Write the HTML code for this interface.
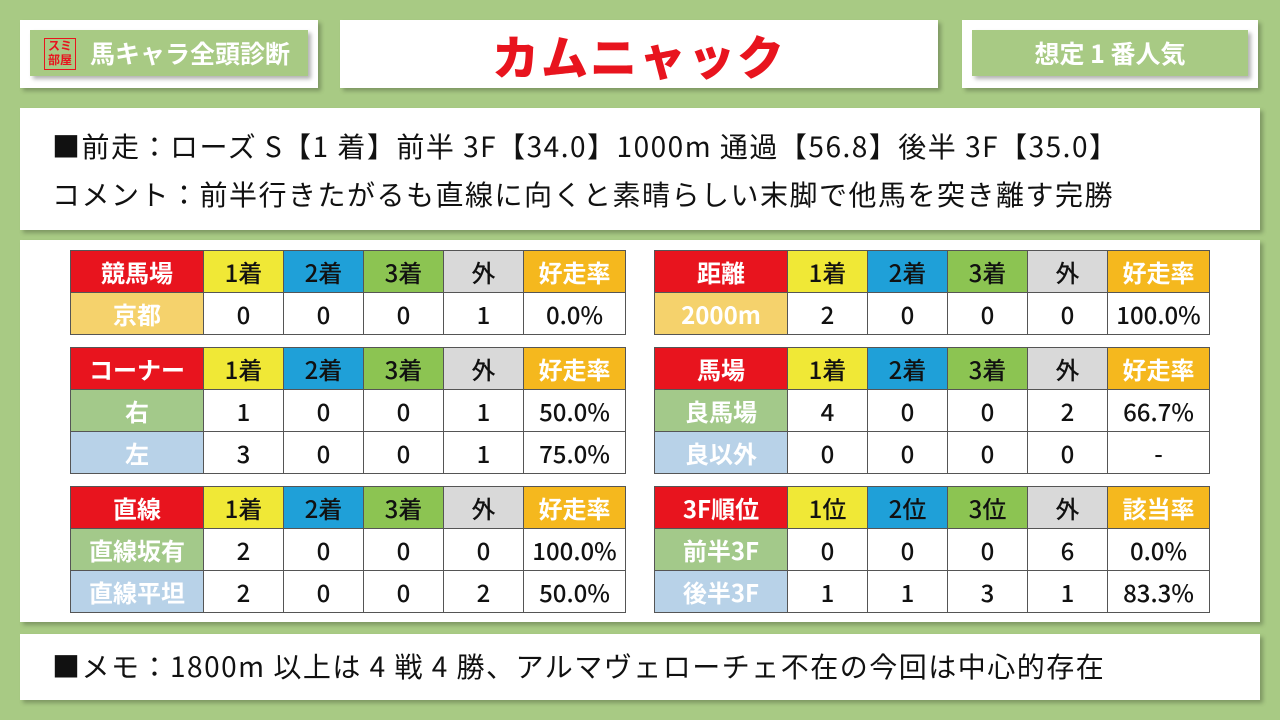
<!DOCTYPE html>
<html><head><meta charset="utf-8">
<style>
*{margin:0;padding:0;box-sizing:border-box}
body{width:1280px;height:720px;background:#a8ca84;position:relative;overflow:hidden;font-family:"Liberation Sans","Noto Sans CJK JP",sans-serif}
.box{position:absolute;background:#fff;box-shadow:3px 3px 4px rgba(0,0,0,.25)}
.gbox{position:absolute;background:#a8ca84;box-shadow:3px 3px 4px rgba(0,0,0,.3);color:#fff;font-weight:bold;font-size:25px;display:flex;align-items:center;justify-content:center}
table{position:absolute;border-collapse:collapse;table-layout:fixed;font-family:"Noto Sans CJK JP",sans-serif}
td{height:42px;border:1px solid #555;text-align:center;font-size:24px;font-weight:500;color:#111;padding:0;line-height:38px}
td.l{color:#fff;font-weight:bold}
.r{background:#e8141e;color:#fff}
.y{background:#f0e836}.b{background:#1fa0d8}.g{background:#8cc452}.gr{background:#d9d9d9}.o{background:#f5b81e;color:#fff}
.kc{background:#f5d26c}.gg{background:#a3c98a}.bb{background:#b8d2e8}
.t{position:absolute;font-family:"Noto Sans CJK JP",sans-serif;font-size:28px;letter-spacing:1.5px;color:#111;white-space:nowrap;line-height:36px}
</style></head><body>
<div class="box" style="left:20px;top:20px;width:298px;height:68px"></div>
<div class="gbox" style="left:30px;top:30px;width:278px;height:46px;justify-content:flex-start;padding-left:60px;font-family:'Noto Sans CJK JP',sans-serif">馬キャラ全頭診断</div>
<div style="position:absolute;left:44px;top:38px;width:32px;height:32px;border:1px solid #e8141e;color:#e8141e;font-size:12px;line-height:14px;font-family:'Noto Sans CJK JP',sans-serif;text-align:center;font-weight:bold">スミ<br>部屋</div>
<div class="box" style="left:340px;top:20px;width:598px;height:68px;display:flex;align-items:center;justify-content:center;color:#e8141e;font-size:47px;font-weight:900;font-family:'Noto Sans CJK JP',sans-serif;letter-spacing:2px">カムニャック</div>
<div class="box" style="left:962px;top:20px;width:296px;height:68px"></div>
<div class="gbox" style="left:972px;top:30px;width:276px;height:46px;font-family:'Noto Sans CJK JP',sans-serif">想定 1 番人気</div>
<div class="box" style="left:20px;top:108px;width:1240px;height:122px"></div>
<div class="t" style="left:52px;top:128px">■前走：ローズ S【1 着】前半 3F【34.0】1000m 通過【56.8】後半 3F【35.0】</div>
<div class="t" style="left:52px;top:176px">コメント：前半行きたがるも直線に向くと素晴らしい末脚で他馬を突き離す完勝</div>
<div class="box" style="left:20px;top:240px;width:1240px;height:382px"></div>
<div class="box" style="left:20px;top:634px;width:1240px;height:66px"></div>
<div class="t" style="left:52px;top:648px">■メモ：1800m 以上は 4 戦 4 勝、アルマヴェローチェ不在の今回は中心的存在</div>

<table style="left:70px;top:250px"><colgroup><col style="width:133px"><col style="width:80px"><col style="width:80px"><col style="width:80px"><col style="width:80px"><col style="width:102px"></colgroup>
<tr><td class="l r">競馬場</td><td class="y">1着</td><td class="b">2着</td><td class="g">3着</td><td class="gr">外</td><td class="o l">好走率</td></tr>
<tr><td class="l kc">京都</td><td>0</td><td>0</td><td>0</td><td>1</td><td>0.0%</td></tr></table>

<table style="left:654px;top:250px"><colgroup><col style="width:133px"><col style="width:80px"><col style="width:80px"><col style="width:80px"><col style="width:80px"><col style="width:102px"></colgroup>
<tr><td class="l r">距離</td><td class="y">1着</td><td class="b">2着</td><td class="g">3着</td><td class="gr">外</td><td class="o l">好走率</td></tr>
<tr><td class="l kc">2000m</td><td>2</td><td>0</td><td>0</td><td>0</td><td>100.0%</td></tr></table>

<table style="left:70px;top:347px"><colgroup><col style="width:133px"><col style="width:80px"><col style="width:80px"><col style="width:80px"><col style="width:80px"><col style="width:102px"></colgroup>
<tr><td class="l r">コーナー</td><td class="y">1着</td><td class="b">2着</td><td class="g">3着</td><td class="gr">外</td><td class="o l">好走率</td></tr>
<tr><td class="l gg">右</td><td>1</td><td>0</td><td>0</td><td>1</td><td>50.0%</td></tr>
<tr><td class="l bb">左</td><td>3</td><td>0</td><td>0</td><td>1</td><td>75.0%</td></tr></table>

<table style="left:654px;top:347px"><colgroup><col style="width:133px"><col style="width:80px"><col style="width:80px"><col style="width:80px"><col style="width:80px"><col style="width:102px"></colgroup>
<tr><td class="l r">馬場</td><td class="y">1着</td><td class="b">2着</td><td class="g">3着</td><td class="gr">外</td><td class="o l">好走率</td></tr>
<tr><td class="l gg">良馬場</td><td>4</td><td>0</td><td>0</td><td>2</td><td>66.7%</td></tr>
<tr><td class="l bb">良以外</td><td>0</td><td>0</td><td>0</td><td>0</td><td>-</td></tr></table>

<table style="left:70px;top:486px"><colgroup><col style="width:133px"><col style="width:80px"><col style="width:80px"><col style="width:80px"><col style="width:80px"><col style="width:102px"></colgroup>
<tr><td class="l r">直線</td><td class="y">1着</td><td class="b">2着</td><td class="g">3着</td><td class="gr">外</td><td class="o l">好走率</td></tr>
<tr><td class="l gg">直線坂有</td><td>2</td><td>0</td><td>0</td><td>0</td><td>100.0%</td></tr>
<tr><td class="l bb">直線平坦</td><td>2</td><td>0</td><td>0</td><td>2</td><td>50.0%</td></tr></table>

<table style="left:654px;top:486px"><colgroup><col style="width:133px"><col style="width:80px"><col style="width:80px"><col style="width:80px"><col style="width:80px"><col style="width:102px"></colgroup>
<tr><td class="l r">3F順位</td><td class="y">1位</td><td class="b">2位</td><td class="g">3位</td><td class="gr">外</td><td class="o l">該当率</td></tr>
<tr><td class="l gg">前半3F</td><td>0</td><td>0</td><td>0</td><td>6</td><td>0.0%</td></tr>
<tr><td class="l bb">後半3F</td><td>1</td><td>1</td><td>3</td><td>1</td><td>83.3%</td></tr></table>
</body></html>
